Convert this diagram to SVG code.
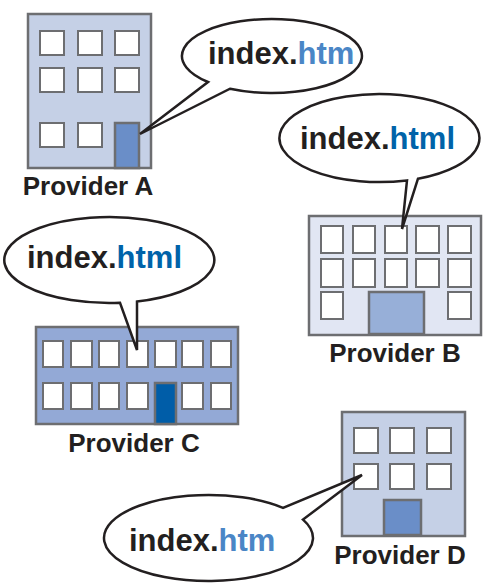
<svg xmlns="http://www.w3.org/2000/svg" width="483" height="583" viewBox="0 0 483 583">
  <style>
    .wall { stroke: #6d6e71; stroke-width: 2.5; }
    .win { fill: #ffffff; stroke: #6d6e71; stroke-width: 2; }
    .door { stroke: #6d6e71; stroke-width: 2.5; }
    .label { font-family: "Liberation Sans", Arial, Helvetica, sans-serif; font-weight: bold; font-size: 26px; fill: #231f20; text-anchor: middle; }
    .bubble { fill: #ffffff; stroke: #231f20; stroke-width: 2.5; stroke-linejoin: miter; }
    .file { font-family: "Liberation Sans", Arial, Helvetica, sans-serif; font-weight: bold; font-size: 31px; fill: #231f20; }
    .ext-htm { fill: #4a86c6; }
    .ext-html { fill: #0063a9; }
  </style>

  <!-- Provider A: tall building, three rows of windows -->
  <g id="provider-a">
    <rect class="wall" x="28" y="14" width="123" height="154" fill="#c5d0e6"/>
    <rect class="win" x="40" y="31" width="24" height="24"/>
    <rect class="win" x="78" y="31" width="24" height="24"/>
    <rect class="win" x="115" y="31" width="24" height="24"/>
    <rect class="win" x="40" y="68" width="24" height="24"/>
    <rect class="win" x="78" y="68" width="24" height="24"/>
    <rect class="win" x="115" y="68" width="24" height="24"/>
    <rect class="win" x="40" y="123" width="24" height="24"/>
    <rect class="win" x="78" y="123" width="24" height="24"/>
    <rect class="door" x="115" y="123" width="24" height="45" fill="#6a8ec8"/>
    <text class="label" x="88" y="195">Provider A</text>
  </g>

  <!-- Provider B: wide building, central door -->
  <g id="provider-b">
    <rect class="wall" x="309" y="216" width="172" height="119" fill="#e1e6f3"/>
    <rect class="win" x="321" y="226" width="22" height="27"/>
    <rect class="win" x="353" y="226" width="22" height="27"/>
    <rect class="win" x="385" y="226" width="22" height="27"/>
    <rect class="win" x="416" y="226" width="23" height="27"/>
    <rect class="win" x="448" y="226" width="23" height="27"/>
    <rect class="win" x="321" y="259" width="22" height="28"/>
    <rect class="win" x="353" y="259" width="22" height="28"/>
    <rect class="win" x="385" y="259" width="22" height="28"/>
    <rect class="win" x="416" y="259" width="23" height="28"/>
    <rect class="win" x="448" y="259" width="23" height="28"/>
    <rect class="win" x="321" y="292" width="22" height="27"/>
    <rect class="win" x="448" y="292" width="23" height="27"/>
    <rect class="door" x="369" y="292" width="55" height="42" fill="#97afd8"/>
    <text class="label" x="395" y="362">Provider B</text>
  </g>

  <!-- Provider C: long low building, two rows -->
  <g id="provider-c">
    <rect class="wall" x="36" y="327" width="202" height="97" fill="#93a9d6"/>
    <rect class="win" x="43" y="341" width="20" height="26"/>
    <rect class="win" x="71" y="341" width="21" height="26"/>
    <rect class="win" x="99" y="341" width="20" height="26"/>
    <rect class="win" x="127" y="341" width="21" height="26"/>
    <rect class="win" x="155" y="341" width="21" height="26"/>
    <rect class="win" x="182" y="341" width="21" height="26"/>
    <rect class="win" x="211" y="341" width="20" height="26"/>
    <rect class="win" x="43" y="383" width="20" height="26"/>
    <rect class="win" x="71" y="383" width="21" height="26"/>
    <rect class="win" x="99" y="383" width="20" height="26"/>
    <rect class="win" x="127" y="383" width="21" height="26"/>
    <rect class="win" x="182" y="383" width="21" height="26"/>
    <rect class="win" x="211" y="383" width="20" height="26"/>
    <rect class="door" x="155" y="383" width="21" height="41" fill="#005da8"/>
    <text class="label" x="134" y="452">Provider C</text>
  </g>

  <!-- Provider D: small building -->
  <g id="provider-d">
    <rect class="wall" x="342" y="412" width="123" height="124" fill="#c5d0e6"/>
    <rect class="win" x="354" y="428" width="24" height="25"/>
    <rect class="win" x="390" y="428" width="24" height="25"/>
    <rect class="win" x="427" y="428" width="24" height="25"/>
    <rect class="win" x="354" y="464" width="24" height="25"/>
    <rect class="win" x="390" y="464" width="24" height="25"/>
    <rect class="win" x="427" y="464" width="24" height="25"/>
    <rect class="door" x="384" y="500" width="37" height="35" fill="#6a8ec8"/>
    <text class="label" x="400" y="564">Provider D</text>
  </g>

  <!-- Speech callouts; each outline runs from its tail round the ellipse -->
  <g id="callouts">
    <g id="callout-a">
      <path class="bubble" d="M230,88.7 A90,37 0 1 0 208,82 L140,134 Z"/>
      <text class="file" x="208" y="64">index.<tspan class="ext-htm">htm</tspan></text>
    </g>
    <g id="callout-b">
      <path class="bubble" d="M418,178.7 A100,44 0 1 0 407,180.4 L402,229 Z"/>
      <text class="file" x="300" y="149">index.<tspan class="ext-html">html</tspan></text>
    </g>
    <g id="callout-c">
      <path class="bubble" d="M137,301.5 A105,43 0 1 0 120,302.8 L137,350 Z"/>
      <text class="file" x="27" y="268">index.<tspan class="ext-html">html</tspan></text>
    </g>
    <g id="callout-d">
      <path class="bubble" d="M303,519.6 A104.5,43 0 1 1 283,507.8 L362,475 Z"/>
      <text class="file" x="129" y="551">index.<tspan class="ext-htm">htm</tspan></text>
    </g>
  </g>
</svg>
